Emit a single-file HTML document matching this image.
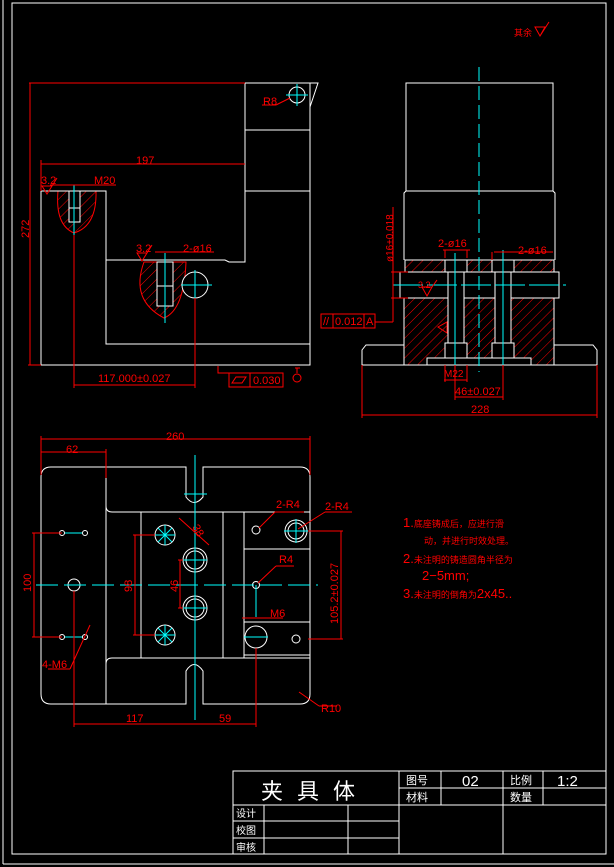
<!DOCTYPE html>
<html><head><meta charset="utf-8"><style>
html,body{margin:0;padding:0;background:#000;}
svg{display:block;}
text{font-family:"Liberation Sans","Noto Sans CJK SC",sans-serif;}
</style></head><body>
<svg width="614" height="867" viewBox="0 0 614 867" xmlns="http://www.w3.org/2000/svg">
<defs>
<pattern id="h" width="7" height="7" patternUnits="userSpaceOnUse" patternTransform="rotate(45)">
<line x1="0" y1="0" x2="0" y2="7" stroke="#f00" stroke-width="1"/>
</pattern>
</defs>
<rect width="614" height="867" fill="#000"/>
<g stroke="#fff" fill="none" stroke-width="1">
<line x1="3" y1="0" x2="3" y2="864"/>
<line x1="3" y1="864" x2="614" y2="864"/>
<rect x="12" y="3" width="594" height="851"/>
<rect x="233" y="771" width="373" height="83"/>
<line x1="233" y1="805" x2="606" y2="805"/>
<line x1="399" y1="788" x2="606" y2="788"/>
<line x1="233" y1="821" x2="399" y2="821"/>
<line x1="233" y1="838" x2="399" y2="838"/>
<line x1="264" y1="805" x2="264" y2="854"/>
<line x1="348" y1="805" x2="348" y2="854"/>
<line x1="399" y1="771" x2="399" y2="854"/>
<line x1="441" y1="771" x2="441" y2="805"/>
<line x1="503" y1="771" x2="503" y2="854"/>
<line x1="543" y1="771" x2="543" y2="805"/>
</g>
<g fill="#fff" font-size="11">
<text x="261" y="799" font-size="22" letter-spacing="14">夹具体</text>
<text x="406" y="784">图号</text><text x="406" y="801">材料</text>
<text x="510" y="784">比例</text><text x="510" y="801">数量</text>
<text x="236" y="817" font-size="10">设计</text>
<text x="236" y="834" font-size="10">校图</text>
<text x="236" y="851" font-size="10">审核</text>
<text x="462" y="786" font-size="15">02</text>
<text x="557" y="786" font-size="15">1:2</text>
</g>
<text x="514" y="36" fill="#f00" font-size="9">其余</text>
<path d="M535 27 L540 36 L545 27 Z M540 36 L549 22" stroke="#f00" fill="none"/>

<g stroke="#f00" fill="url(#h)">
<path d="M58 191 Q55 225 74 233 Q97 226 96 191 Z"/>
<path d="M144 262 Q130 300 164 318 Q184 310 186 262 Z"/>
</g>
<g stroke="#fff" fill="none">
<polyline points="41,191 106,191 106,344 310,344"/>
<polyline points="41,191 41,365 310,365 310,83 245,83 245,262 229,262 225,260 106,260"/>
<line x1="245" y1="130" x2="310" y2="130"/>
<line x1="245" y1="191" x2="310" y2="191"/>
<polyline points="310,83 318,83 310,107"/>
<circle cx="297" cy="95" r="8"/>
<rect x="69" y="191" width="11" height="17" fill="#000"/>
<rect x="69" y="208" width="11" height="14" fill="#000"/>
<rect x="157" y="262" width="16" height="24" fill="#000"/>
<rect x="157" y="286" width="16" height="20" fill="#000"/>
<circle cx="195" cy="285" r="13" fill="#000"/>
</g>
<g stroke="#0ff">
<line x1="74" y1="185" x2="74" y2="235"/>
<line x1="165" y1="253" x2="165" y2="323"/>
<line x1="181" y1="285" x2="212" y2="285"/><line x1="195" y1="270" x2="195" y2="300"/>
<line x1="286" y1="95" x2="308" y2="95"/><line x1="297" y1="84" x2="297" y2="106"/>
</g>
<g stroke="#f00" fill="none">
<line x1="29" y1="83" x2="245" y2="83"/>
<line x1="30" y1="83" x2="30" y2="365"/>
<line x1="28" y1="365" x2="41" y2="365"/>
<line x1="41" y1="164" x2="245" y2="164"/>
<line x1="41" y1="160" x2="41" y2="191"/>
<line x1="74" y1="235" x2="74" y2="388"/>
<line x1="195" y1="298" x2="195" y2="388"/>
<line x1="74" y1="385" x2="195" y2="385"/>
<line x1="50" y1="185" x2="116" y2="185"/>
<line x1="155" y1="252" x2="214" y2="252"/>
<path d="M42 186 L52 186 L47 194 Z M52 186 L57 178"/>
<path d="M137 253 L147 253 L142 261 Z M147 253 L152 245"/>
<line x1="290" y1="98" x2="276" y2="105"/><line x1="262" y1="105" x2="276" y2="105"/>
<polyline points="218,366 218,373 229,373"/>
<rect x="229" y="373" width="21" height="14"/><rect x="250" y="373" width="33" height="14"/>
<path d="M232 383 L236 377 L246 377 L242 383 Z"/>
<line x1="295" y1="368" x2="300" y2="368"/><line x1="297" y1="368" x2="297" y2="373"/>
<circle cx="297" cy="378" r="4"/>
</g>
<g fill="#f00" font-size="11">
<text x="136" y="164">197</text>
<text x="94" y="184">M20</text>
<text x="41" y="184">3.2</text>
<text x="136" y="252">3.2</text>
<text x="183" y="252">2-ø16</text>
<text x="263" y="105">R8</text>
<text x="98" y="382">117.000±0.027</text>
<text x="253" y="384">0.030</text>
<text transform="translate(29,238) rotate(-90)">272</text>
</g>

<g stroke="#fff" fill="none">
<rect x="406" y="83" width="147" height="108"/>
<polyline points="406,191 404,193 404,260"/>
<polyline points="553,191 555,193 555,260"/>
<rect x="405" y="260" width="149" height="12" fill="url(#h)"/>
<rect x="400" y="272" width="159" height="26" fill="#000"/>
<rect x="404" y="298" width="150" height="67" fill="url(#h)"/>
<polyline points="404,345 366,345 362,350 362,365 597,365 597,350 593,345 554,345"/>
<rect x="445" y="260" width="22" height="12" fill="#000"/>
<rect x="492" y="260" width="22" height="12" fill="#000"/>
<rect x="448" y="272" width="16" height="73" fill="#000"/>
<rect x="495" y="272" width="16" height="73" fill="#000"/>
<rect x="445" y="343" width="22" height="22" fill="#000"/>
<rect x="492" y="343" width="22" height="22" fill="#000"/>
<rect x="427" y="358" width="104" height="7" fill="#000"/>
</g>
<g stroke="#0ff">
<line x1="479" y1="67" x2="479" y2="372" stroke-dasharray="14,5"/>
<line x1="393" y1="285" x2="566" y2="285" stroke-dasharray="30,4"/>
<line x1="455" y1="253" x2="455" y2="372"/>
<line x1="503" y1="250" x2="503" y2="372"/>
</g>
<g stroke="#f00" fill="none">
<line x1="393" y1="207" x2="393" y2="322"/>
<line x1="391" y1="272" x2="408" y2="272"/><line x1="391" y1="298" x2="408" y2="298"/>
<rect x="321" y="314" width="12" height="14"/><rect x="333" y="314" width="31" height="14"/><rect x="364" y="314" width="11" height="14"/>
<line x1="375" y1="322" x2="393" y2="322"/>
<line x1="445" y1="250" x2="445" y2="258"/><line x1="467" y1="250" x2="467" y2="258"/>
<line x1="443" y1="250" x2="470" y2="250"/>
<line x1="494" y1="252" x2="553" y2="252"/><line x1="492" y1="252" x2="492" y2="260"/>
<line x1="444" y1="380" x2="467" y2="380"/><line x1="445" y1="365" x2="445" y2="382"/><line x1="467" y1="365" x2="467" y2="382"/>
<line x1="455" y1="365" x2="455" y2="400"/><line x1="503" y1="365" x2="503" y2="400"/>
<line x1="455" y1="397" x2="503" y2="397"/>
<line x1="362" y1="365" x2="362" y2="418"/><line x1="597" y1="365" x2="597" y2="418"/>
<line x1="362" y1="415" x2="597" y2="415"/>
<path d="M422 287 L432 287 L427 296 Z M432 287 L437 280"/>
<path d="M447 322 L447 333 L438 327 Z"/>
</g>
<g fill="#f00" font-size="11">
<text x="438" y="247">2-ø16</text>
<text x="518" y="254">2-ø16</text>
<text x="335" y="325">0.012</text><text x="366" y="325">A</text>
<text x="323" y="325">//</text>
<text x="418" y="288" font-size="9">3.2</text>
<text x="444" y="377" font-size="10">M22</text>
<text x="455" y="395">46±0.027</text>
<text x="471" y="413">228</text>
<text transform="translate(393,262) rotate(-90)" font-size="10">ø16±0.018</text>
</g>

<g stroke="#fff" fill="none">
<path d="M51 467 L186 467 L186 497 Q194 508 203 497 L203 467 L300 467 Q310 467 310 477 L310 694 Q310 704 300 704 L203 704 L203 671 Q194 658 186 671 L186 704 L51 704 Q41 704 41 694 L41 477 Q41 467 51 467 Z"/>
<line x1="106" y1="467" x2="106" y2="704"/>
<path d="M106 506 Q106 512 112 512 L310 512"/>
<path d="M106 664 Q106 658 112 658 L310 658"/>
<line x1="141" y1="512" x2="141" y2="658"/>
<line x1="223" y1="512" x2="223" y2="658"/>
<line x1="244" y1="512" x2="244" y2="658"/>
<line x1="244" y1="549" x2="310" y2="549"/>
<line x1="244" y1="622" x2="310" y2="622"/>
<line x1="244" y1="655" x2="310" y2="655"/>
<circle cx="74" cy="585" r="6"/>
<circle cx="62" cy="533" r="2.5"/><circle cx="85" cy="533" r="2.5"/>
<circle cx="62" cy="637" r="2.5"/><circle cx="85" cy="637" r="2.5"/>
<circle cx="165" cy="535" r="10"/><circle cx="165" cy="635" r="10"/>
<circle cx="195" cy="560" r="12"/><circle cx="195" cy="560" r="9"/>
<circle cx="195" cy="608" r="12"/><circle cx="195" cy="608" r="9"/>
<circle cx="256" cy="530" r="4"/>
<circle cx="296" cy="531" r="11"/><circle cx="296" cy="531" r="8"/>
<circle cx="256" cy="585" r="3.5"/>
<circle cx="256" cy="637" r="11"/>
<circle cx="296" cy="639" r="4"/>
</g>
<g stroke="#0ff">
<line x1="36" y1="585" x2="318" y2="585" stroke-dasharray="22,6"/>
<line x1="195" y1="455" x2="195" y2="720"/>
<line x1="184" y1="494" x2="207" y2="494"/>
<line x1="65" y1="533" x2="82" y2="533"/><line x1="65" y1="637" x2="82" y2="637"/>
<line x1="256" y1="585" x2="256" y2="617"/>
<line x1="183" y1="560" x2="207" y2="560"/><line x1="183" y1="608" x2="207" y2="608"/>
<line x1="284" y1="531" x2="308" y2="531"/><line x1="296" y1="519" x2="296" y2="543"/>
<line x1="244" y1="637" x2="268" y2="637"/>
<path d="M155 535 L175 535 M165 525 L165 545 M158 528 L172 542 M172 528 L158 542"/>
<path d="M155 635 L175 635 M165 625 L165 645 M158 628 L172 642 M172 628 L158 642"/>
</g>
<g stroke="#f00" fill="none">
<line x1="41" y1="439" x2="310" y2="439"/><line x1="41" y1="436" x2="41" y2="475"/><line x1="310" y1="436" x2="310" y2="475"/>
<line x1="41" y1="452" x2="106" y2="452"/><line x1="106" y1="449" x2="106" y2="478"/>
<line x1="32" y1="533" x2="62" y2="533"/><line x1="32" y1="637" x2="62" y2="637"/>
<line x1="34" y1="533" x2="34" y2="637"/>
<line x1="133" y1="535" x2="155" y2="535"/><line x1="133" y1="635" x2="155" y2="635"/>
<line x1="135" y1="535" x2="135" y2="635"/>
<line x1="178" y1="560" x2="183" y2="560"/><line x1="178" y1="608" x2="183" y2="608"/>
<line x1="180" y1="560" x2="180" y2="608"/>
<line x1="179" y1="518" x2="209" y2="545"/>
<line x1="308" y1="531" x2="343" y2="531"/><line x1="308" y1="639" x2="343" y2="639"/>
<line x1="341" y1="531" x2="341" y2="639"/>
<line x1="74" y1="591" x2="74" y2="727"/><line x1="256" y1="648" x2="256" y2="727"/>
<line x1="74" y1="724" x2="256" y2="724"/>
<line x1="259" y1="528" x2="275" y2="512"/><line x1="275" y1="512" x2="304" y2="512"/>
<line x1="298" y1="529" x2="325" y2="512"/><line x1="325" y1="512" x2="352" y2="512"/>
<line x1="258" y1="583" x2="276" y2="566"/><line x1="276" y1="566" x2="294" y2="566"/>
<line x1="242" y1="618" x2="283" y2="618"/>
<line x1="48" y1="669" x2="70" y2="669"/><line x1="70" y1="669" x2="90" y2="625"/>
<line x1="299" y1="692" x2="319" y2="706"/><line x1="319" y1="706" x2="337" y2="706"/>
</g>
<g fill="#f00" font-size="11">
<text x="166" y="440">260</text>
<text x="66" y="453">62</text>
<text x="276" y="508">2-R4</text>
<text x="325" y="510">2-R4</text>
<text x="279" y="563">R4</text>
<text x="270" y="617">M6</text>
<text x="42" y="668">4-M6</text>
<text x="321" y="712">R10</text>
<text x="126" y="722">117</text>
<text x="219" y="722">59</text>
<text transform="translate(31,592) rotate(-90)">100</text>
<text transform="translate(132,592) rotate(-90)">98</text>
<text transform="translate(178,592) rotate(-90)">46</text>
<text transform="translate(192,527) rotate(60)">38</text>
<text transform="translate(338,624) rotate(-90)">105.2±0.027</text>
</g>

<g fill="#f00">
<text x="403" y="527" font-size="13">1.<tspan font-size="9">底座铸成后，应进行滑</tspan></text>
<text x="424" y="544" font-size="9">动，并进行时效处理。</text>
<text x="403" y="563" font-size="13">2.<tspan font-size="9">未注明的铸造圆角半径为</tspan></text>
<text x="422" y="580" font-size="13">2−5mm;</text>
<text x="403" y="598" font-size="13">3.<tspan font-size="9">未注明的倒角为</tspan>2x45..</text>
</g>
</svg>
</body></html>
